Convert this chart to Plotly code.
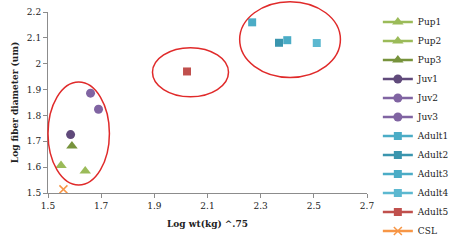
import plotly.graph_objects as go

series_names = ["Pup1", "Pup2", "Pup3", "Juv1", "Juv2", "Juv3",
                "Adult1", "Adult2", "Adult3", "Adult4", "Adult5", "CSL"]
x_values = [1.549, 1.640, 1.590, 1.585, 1.660, 1.690,
            2.268, 2.369, 2.400, 2.511, 2.023, 1.558]
y_values = [1.606, 1.585, 1.682, 1.726, 1.886, 1.824,
            2.160, 2.081, 2.091, 2.080, 1.970, 1.514]
colors = ["#9BBB59", "#9BBB59", "#77933C", "#604A7B", "#8064A2", "#8064A2",
          "#4BACC6", "#3A95AE", "#4BACC6", "#5CB8D0", "#C0504D", "#F79646"]
symbols = ["triangle-up"] * 3 + ["circle"] * 3 + ["square"] * 5 + ["x-thin"]
sizes = [10] * 3 + [9] * 3 + [8] * 5 + [8]

x_ticks = [1.5, 1.7, 1.9, 2.1, 2.3, 2.5, 2.7]
y_ticks = [1.5, 1.6, 1.7, 1.8, 1.9, 2.0, 2.1, 2.2]

# Highlight ellipses (x0, x1, y0, y1) in data units
ellipses = [(1.50, 1.731, 1.531, 1.929),
            (1.893, 2.179, 1.872, 2.062),
            (2.221, 2.600, 1.947, 2.240)]

Y_MIN, Y_MAX = 1.5, 2.2
X_MIN, X_MAX = 1.5, 2.7
FONT = "DejaVu Serif, Liberation Serif, serif"

fig = go.Figure()
for name, xv, yv, c, s, sz in zip(series_names, x_values, y_values, colors, symbols, sizes):
    mk = dict(color=c, symbol=s, size=sz)
    if s == "x-thin":
        mk["line"] = dict(color=c, width=1.5)
    else:
        mk["line"] = dict(width=0)
    fig.add_trace(go.Scatter(x=[xv], y=[yv], name=name, mode="lines+markers",
                             marker=mk, line=dict(color=c, width=2.5)))

for x0, x1, y0, y1 in ellipses:
    fig.add_shape(type="circle", xref="x domain", yref="y domain",
                  x0=(x0 - X_MIN) / (X_MAX - X_MIN), x1=(x1 - X_MIN) / (X_MAX - X_MIN),
                  y0=(y0 - Y_MIN) / (Y_MAX - Y_MIN), y1=(y1 - Y_MIN) / (Y_MAX - Y_MIN),
                  line=dict(color="#E02A2A", width=1.5), layer="above")

fig.update_layout(
    width=454, height=240,
    margin=dict(l=48, r=87, t=12, b=47, autoexpand=False),
    paper_bgcolor="white", plot_bgcolor="white",
    font=dict(family=FONT, size=9, color="#222222"),
    showlegend=True,
    legend=dict(x=1.034, xanchor="left", y=1.025, yanchor="top",
                font=dict(family=FONT, size=9, color="#222222"),
                itemwidth=30, tracegroupgap=0, bgcolor="rgba(0,0,0,0)",
                maxheight=240),
    xaxis=dict(range=[X_MIN, X_MAX], tickvals=x_ticks, ticktext=[f"{v:g}" for v in x_ticks],
               showgrid=False, zeroline=False, showline=True, linecolor="#8C8C8C",
               linewidth=1, ticks="outside", ticklen=4, tickcolor="#8C8C8C",
               title=dict(text="<b>Log wt(kg) ^.75</b>", font=dict(size=9), standoff=10)),
    yaxis=dict(range=[Y_MIN, Y_MAX], tickvals=y_ticks, ticktext=[f"{v:g}" for v in y_ticks],
               showgrid=False, zeroline=False, showline=True, linecolor="#8C8C8C",
               linewidth=1, ticks="outside", ticklen=4, tickcolor="#8C8C8C",
               title=dict(text="<b>Log fiber diameter (um)</b>", font=dict(size=9), standoff=6)),
)

# remove the browser's default 8px body margin so the figure fills the window
fig.write_html("out.html", config={"displayModeBar": False},
               post_script="document.body.style.margin='0';document.body.style.overflow='hidden';")
